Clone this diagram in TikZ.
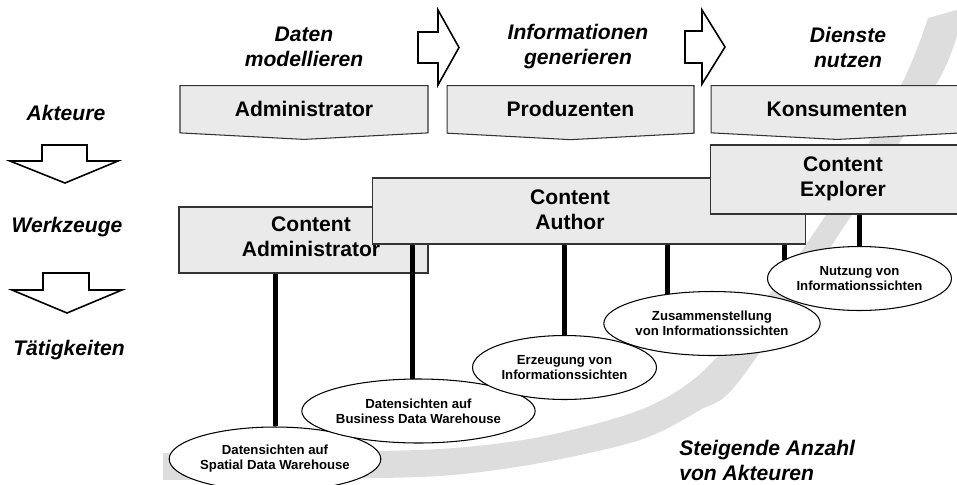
\documentclass[tikz,border=0pt]{standalone}
\usepackage{fontspec}
\setmainfont{Liberation Sans}
\usepackage{tikz}
\usetikzlibrary{positioning,shapes.geometric,shapes.symbols}
\definecolor{boxgray}{RGB}{234,234,234}
\definecolor{bandgray}{RGB}{221,221,221}

\begin{document}
\begin{tikzpicture}[x=0.02cm, y=-0.02cm,
  role/.style={draw=black!80, line width=0.6pt, fill=boxgray, shape=signal, signal to=south,
    signal pointer angle=174, minimum height=1.02cm, inner sep=0pt, anchor=north,
    font=\bfseries\fontsize{12}{14}\selectfont},
  tool/.style={draw=black!80, line width=0.6pt, fill=boxgray, inner sep=0pt},
  tooltext/.style={align=center, inner sep=0pt, font=\bfseries\fontsize{12}{14.2}\selectfont},
  phase/.style={align=center, inner sep=0pt, font=\bfseries\itshape\fontsize{12}{14.2}\selectfont},
  task/.style={draw, line width=0.6pt, fill=white, ellipse, minimum width=3.68cm, minimum height=1.28cm,
    inner sep=0pt, align=center, font=\bfseries\fontsize{7.5}{8.6}\selectfont},
  stem/.style={line width=0.1cm},
  hollow/.style={draw, line width=0.9pt, fill=white}]
\useasboundingbox (0,0) rectangle (957,484);
\clip (0,0) rectangle (957,484);

% rising band in the background
\fill[bandgray] plot[smooth] coordinates {(163,453) (300,452) (440,449) (540,437) (640,410)
    (700,374) (765,300) (827,213) (902,83) (928,18)}
  -- (1010,-5) -- (1010,50)
  -- plot[smooth] coordinates {(957,35) (937,83) (853,213) (740,380) (700,410) (640,440)
    (540,463) (440,476) (300,479) (163,480)} -- cycle;

% phases
\node[phase] (ph1) at (304,47) {Daten\\modellieren};
\node[phase] (ph2) at (578,47) {Informationen\\generieren};
\node[phase] (ph3) at (848,47) {Dienste\\nutzen};
\draw[hollow] (418,32) -- (438,32) -- (438,10) -- (459,47.5) -- (438,85) -- (438,63) -- (418,63) -- cycle;
\draw[hollow] (685,31) -- (702,31) -- (702,10) -- (725,47) -- (702,84) -- (702,63) -- (685,63) -- cycle;

% actors
\node[role, minimum width=4.96cm] (adm) at (304,85) {Administrator};
\node[role, minimum width=4.94cm] (prod) at (570.5,85) {Produzenten};
\node[role, minimum width=5.04cm] (kons) at (837,85) {Konsumenten};

% left column
\node[phase] (akt) at (66,113) {Akteure};
\node[phase] (wkz) at (67,227) {Werkzeuge};
\node[phase] (tat) at (69,350) {T\"atigkeiten};
\draw[hollow] (42,145) -- (87,145) -- (87,161) -- (118,161) -- (65,183) -- (10,161) -- (42,161) -- cycle;
\draw[hollow] (43,273) -- (89,273) -- (89,290) -- (122,290) -- (67,313) -- (12,290) -- (43,290) -- cycle;

% tools
\node[tool, minimum width=4.98cm, minimum height=1.32cm] (cadm) at (303.5,240) {};
\node[tooltext] (cadmtxt) at (311,237) {Content\\Administrator};
\node[tool, minimum width=8.68cm, minimum height=1.32cm] (caut) at (589,211) {};
\node[tooltext] (cauttxt) at (570,210) {Content\\Author};
\node[tool, minimum width=5.32cm, minimum height=1.38cm] (cexp) at (843,179.5) {};
\node[tooltext] (cexptxt) at (843,179) {Content\\Explorer};

% activities
\node[task] (e1) at (275,459) {Datensichten auf\\Spatial Data Warehouse};
\node[task] (e2) at (418.5,411) {Datensichten auf\\Business Data Warehouse};
\node[task] (e3) at (564.5,367.5) {Erzeugung von\\Informationssichten};
\node[task] (e4) at (712,323.5) {Zusammenstellung\\von Informationssichten};
\node[task] (e5) at (859.5,278.5) {Nutzung von\\Informationssichten};

\draw[stem] (e1.north) -- (e1.north |- cadm.south);
\draw[stem] (e2.101) -- (e2.101 |- caut.south);
\draw[stem] (e3.north) -- (e3.north |- caut.south);
\draw[stem] (e4.146) -- (e4.146 |- caut.south);
\draw[stem] (e5.166) -- (e5.166 |- caut.south);
\draw[stem] (e5.north) -- (e5.north |- cexp.south);

\node[phase, anchor=north west, align=left] (anz) at (679,440) {Steigende Anzahl\\von Akteuren};
\end{tikzpicture}
\end{document}
